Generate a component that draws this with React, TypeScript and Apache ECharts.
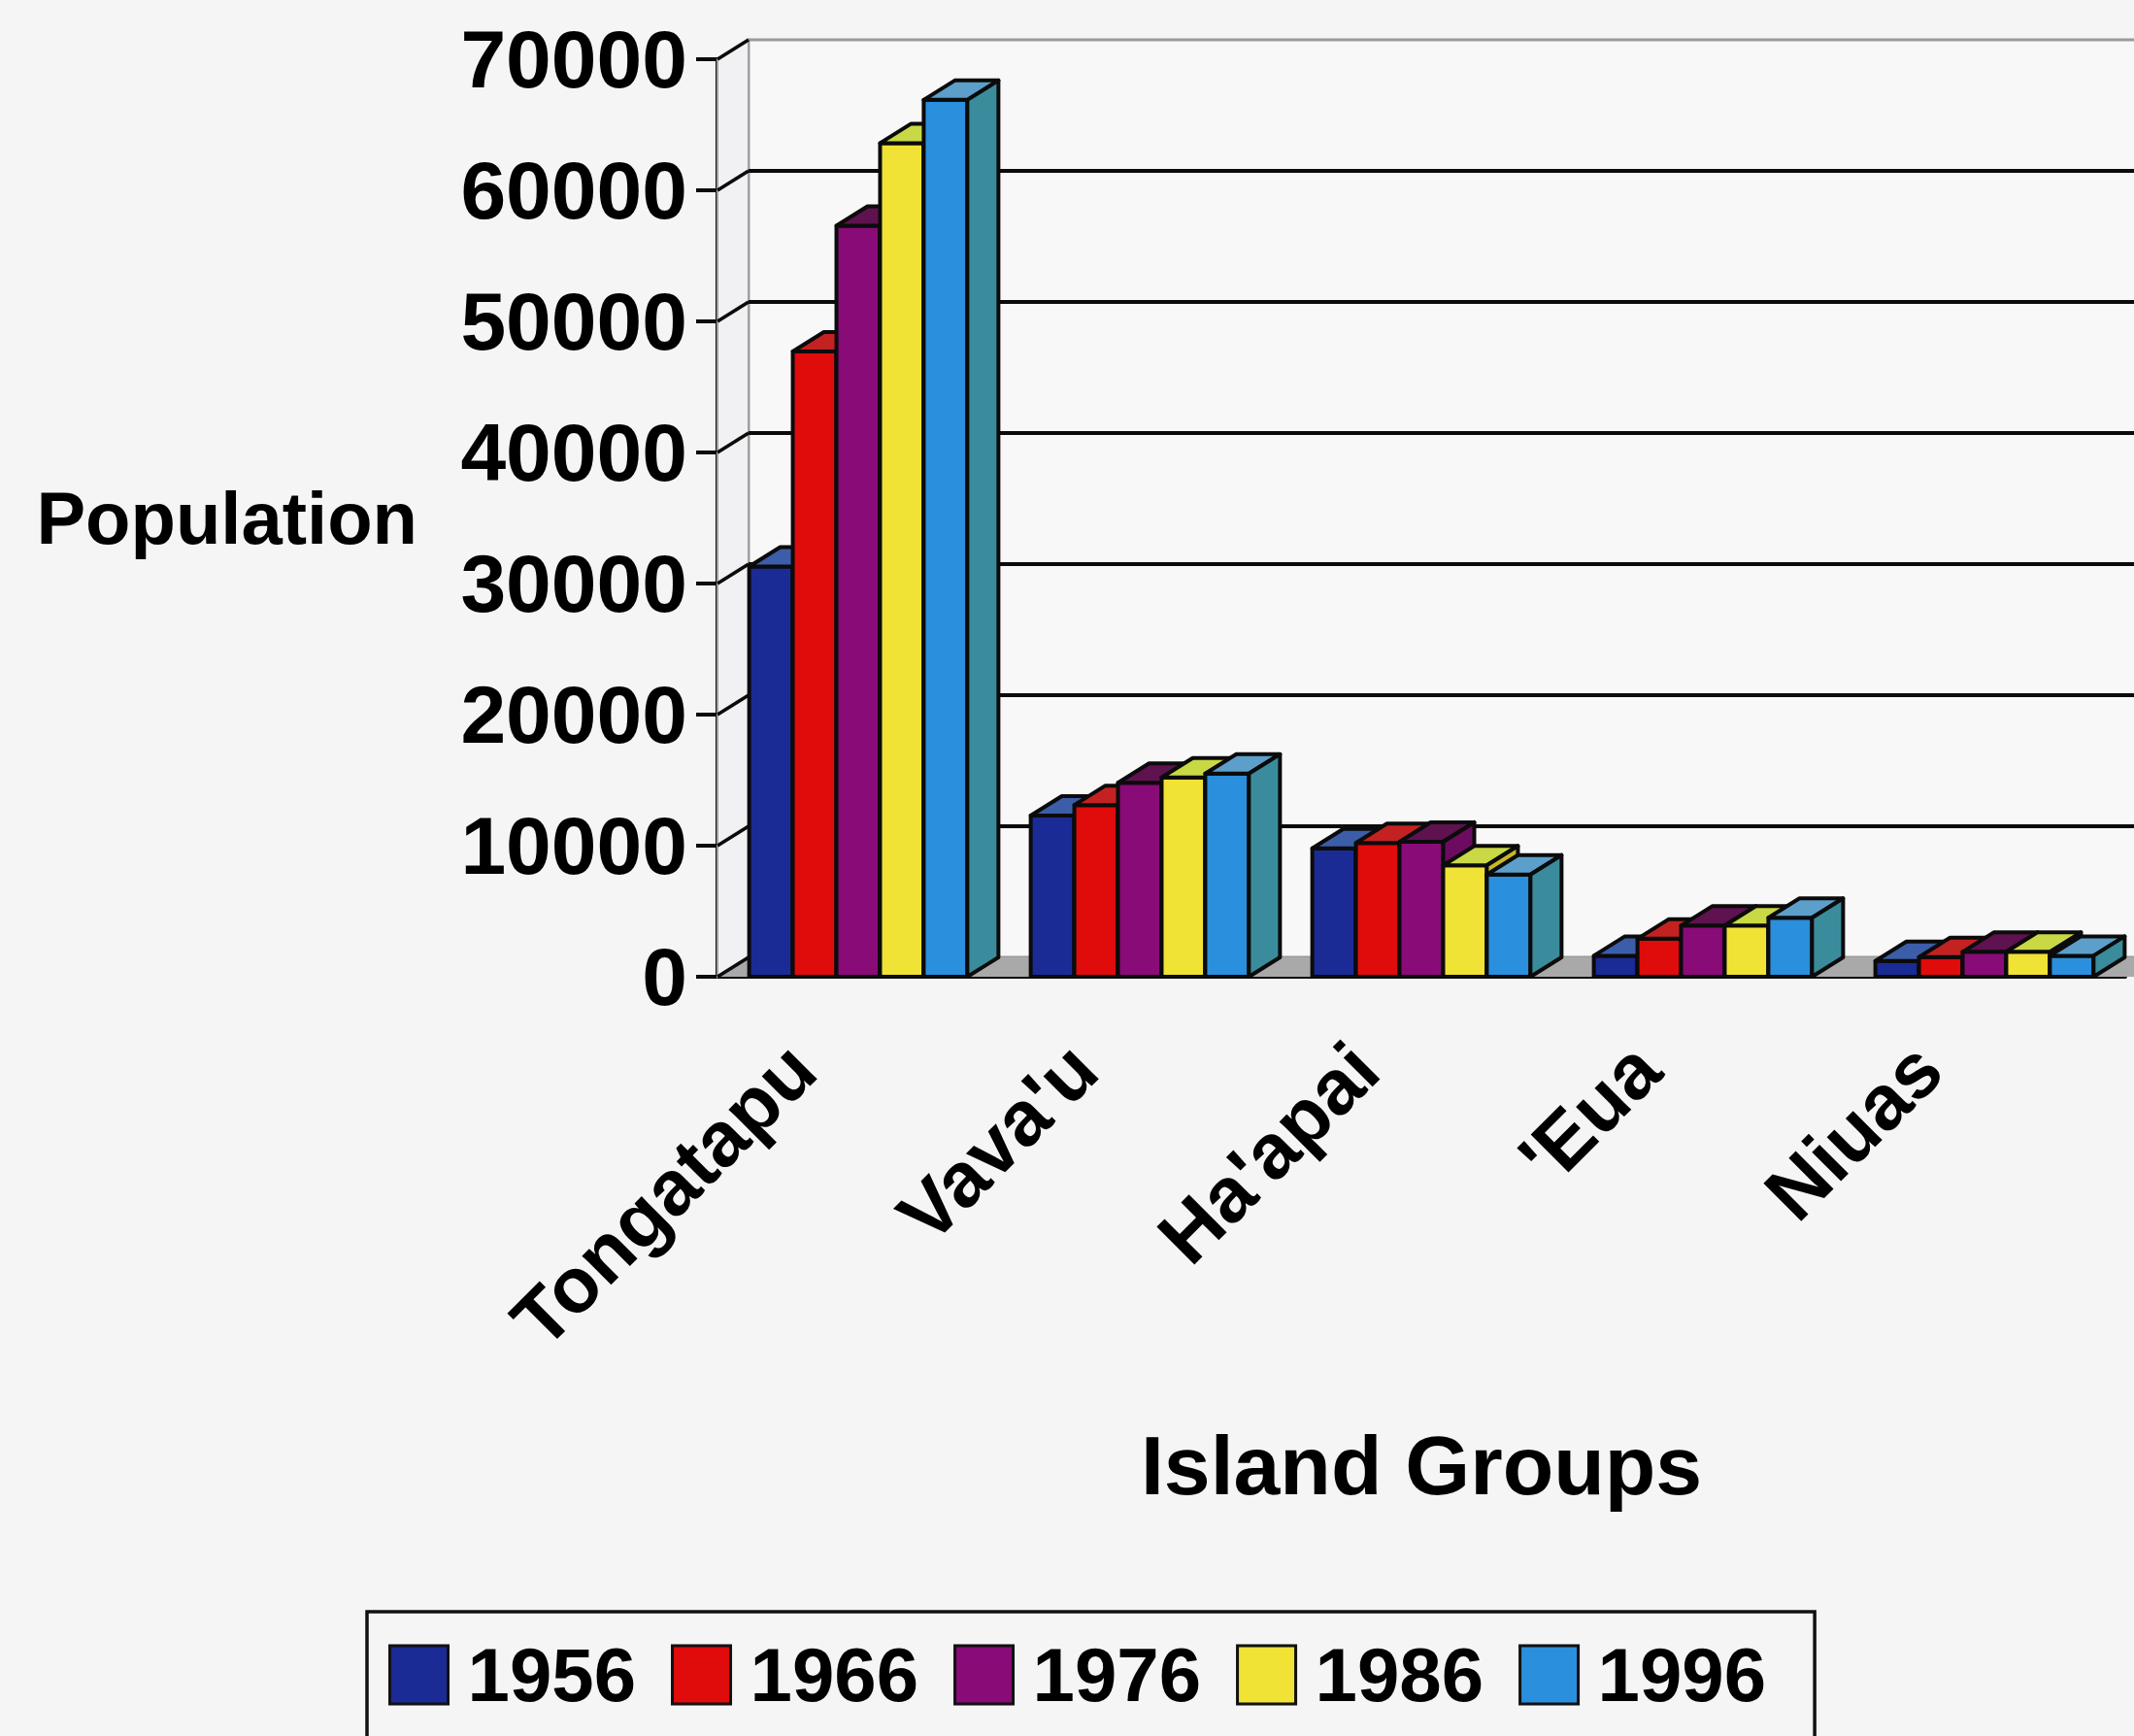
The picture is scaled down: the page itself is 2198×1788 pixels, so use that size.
import React, { useEffect, useRef } from "react";
import * as echarts from "echarts";

// Island groups of Tonga and census population by year
const islandGroups = ["Tongatapu", "Vava'u", "Ha'apai", "'Eua", "Niuas"];
const censusYears = ["1956", "1966", "1976", "1986", "1996"];

const pop1956 = [31300, 12300, 9800, 1600, 1200];
const pop1966 = [47700, 13100, 10200, 2900, 1500];
const pop1976 = [57300, 14800, 10300, 3900, 1900];
const pop1986 = [63600, 15200, 8500, 3900, 1900];
const pop1996 = [66900, 15500, 7800, 4500, 1600];

const populationTicks = [0, 10000, 20000, 30000, 40000, 50000, 60000, 70000];

const seriesValues = [pop1956, pop1966, pop1976, pop1986, pop1996];

// face colours of each 3D column: front, top, side
const faceColors = [
  { front: "#1b2b95", top: "#3c5da8", side: "#16247c" },
  { front: "#e00b0b", top: "#c42222", side: "#b00808" },
  { front: "#890b78", top: "#5e124f", side: "#6c0b60" },
  { front: "#f1e236", top: "#c9d845", side: "#c9b824" },
  { front: "#2a8fdc", top: "#5d9fcb", side: "#3a8c9c" },
];

const FONT = "'Liberation Sans', Arial, sans-serif";
const DEPTH_X = 32;
const DEPTH_Y = -20;
const EDGE = "#0b0b0b";

export default function App() {
  const ref = useRef<HTMLDivElement>(null);

  useEffect(() => {
    if (!ref.current) return;
    const chart = echarts.init(ref.current, null, { renderer: "svg" });

    // back wall, side wall, floor and gridlines of the 3D frame
    const frameSeries = {
      type: "custom",
      name: "frame",
      silent: true,
      z: 1,
      data: [[0, 0]],
      renderItem: (params: any, api: any) => {
        const cs = params.coordSys;
        const x = cs.x;
        const y = cs.y;
        const w = cs.width;
        const h = cs.height;
        const children: any[] = [];
        children.push({
          type: "polygon",
          shape: {
            points: [
              [x + DEPTH_X, y + DEPTH_Y],
              [x + w + DEPTH_X + 40, y + DEPTH_Y],
              [x + w + DEPTH_X + 40, y + h + DEPTH_Y],
              [x + DEPTH_X, y + h + DEPTH_Y],
            ],
          },
          style: { fill: "#f8f8f9", stroke: "#9a9a9a", lineWidth: 3 },
        });
        children.push({
          type: "polygon",
          shape: {
            points: [
              [x, y],
              [x + DEPTH_X, y + DEPTH_Y],
              [x + DEPTH_X, y + h + DEPTH_Y],
              [x, y + h],
            ],
          },
          style: { fill: "#f1f1f3", stroke: "#a0a0a0", lineWidth: 2 },
        });
        children.push({
          type: "polygon",
          shape: {
            points: [
              [x, y + h],
              [x + w + 40, y + h],
              [x + w + DEPTH_X + 40, y + h + DEPTH_Y],
              [x + DEPTH_X, y + h + DEPTH_Y],
            ],
          },
          style: { fill: "#a9a9a9" },
        });
        populationTicks.forEach((v) => {
          const p = api.coord([0, v]);
          const yy = p[1];
          if (v > 0 && v < 70000) {
            children.push({
              type: "line",
              shape: { x1: x + DEPTH_X, y1: yy + DEPTH_Y, x2: x + w + DEPTH_X + 40, y2: yy + DEPTH_Y },
              style: { stroke: EDGE, lineWidth: 4 },
            });
          }
          children.push({
            type: "line",
            shape: { x1: x, y1: yy, x2: x + DEPTH_X, y2: yy + DEPTH_Y },
            style: { stroke: EDGE, lineWidth: 3.5 },
          });
        });
        return { type: "group", children };
      },
    };

    const barSeries = censusYears.map((year, s) => ({
      type: "custom",
      name: year,
      z: 2,
      itemStyle: { color: faceColors[s].front },
      encode: { x: 0, y: 1 },
      data: seriesValues[s].map((v, i) => [i, v]),
      renderItem: (params: any, api: any) => {
        const cat = api.value(0);
        const val = api.value(1);
        const top = api.coord([cat, val]);
        const base = api.coord([cat, 0]);
        const cw = api.size([1, 0])[0];
        const bw = cw * 0.155;
        const x0 = top[0] - 2.5 * bw + s * bw;
        const y1 = top[1];
        const y0 = base[1];
        const c = faceColors[s];
        const stroke = { stroke: EDGE, lineWidth: 4, lineJoin: "round" };
        return {
          type: "group",
          children: [
            {
              type: "rect",
              shape: { x: x0, y: y1, width: bw, height: y0 - y1 },
              style: { fill: c.front, ...stroke },
            },
            {
              type: "polygon",
              shape: {
                points: [
                  [x0, y1],
                  [x0 + bw, y1],
                  [x0 + bw + DEPTH_X, y1 + DEPTH_Y],
                  [x0 + DEPTH_X, y1 + DEPTH_Y],
                ],
              },
              style: { fill: c.top, ...stroke },
            },
            {
              type: "polygon",
              shape: {
                points: [
                  [x0 + bw, y1],
                  [x0 + bw + DEPTH_X, y1 + DEPTH_Y],
                  [x0 + bw + DEPTH_X, y0 + DEPTH_Y],
                  [x0 + bw, y0],
                ],
              },
              style: { fill: c.side, ...stroke },
            },
          ],
        };
      },
    }));

    chart.setOption({
      animation: false,
      backgroundColor: "#f5f5f6",
      textStyle: { fontFamily: FONT },
      grid: { left: 739, right: 9, top: 61, bottom: 782, containLabel: false },
      legend: {
        data: censusYears.map((y, s) => ({
          name: y,
          itemStyle: { color: faceColors[s].front, borderColor: "#111", borderWidth: 3 },
        })),
        icon: "rect",
        orient: "horizontal",
        left: 378,
        top: 1660,
        itemWidth: 60,
        itemHeight: 60,
        itemGap: 36,
        padding: [26, 50, 34, 22],
        borderColor: "#111",
        borderWidth: 3.5,
        textStyle: {
          fontFamily: FONT,
          fontSize: 78,
          fontWeight: "bold",
          color: "#000",
          padding: [0, 0, 0, 15],
        },
      },
      xAxis: {
        type: "category",
        data: islandGroups,
        name: "Island Groups",
        nameLocation: "middle",
        nameGap: 460,
        nameTextStyle: { fontFamily: FONT, fontSize: 86, fontWeight: "bold", color: "#000" },
        axisLine: { lineStyle: { color: EDGE, width: 4 } },
        axisTick: { length: 24, lineStyle: { color: EDGE, width: 4 } },
        axisLabel: {
          interval: 0,
          rotate: 45,
          margin: 24,
          padding: [0, 82, 0, 0],
          fontFamily: FONT,
          fontSize: 80,
          fontWeight: "bold",
          color: "#000",
        },
        splitLine: { show: false },
      },
      yAxis: {
        type: "value",
        min: 0,
        max: 70000,
        interval: 10000,
        name: "Population",
        nameLocation: "middle",
        nameRotate: 0,
        nameGap: 309,
        nameTextStyle: { fontFamily: FONT, fontSize: 76, fontWeight: "bold", color: "#000" },
        axisLine: { show: true, lineStyle: { color: EDGE, width: 4 } },
        axisTick: { show: true, length: 22, lineStyle: { color: EDGE, width: 4 } },
        axisLabel: {
          margin: 31,
          formatter: (v: number) => String(v),
          fontFamily: FONT,
          fontSize: 84,
          fontWeight: "bold",
          color: "#000",
        },
        splitLine: { show: false },
      },
      series: [frameSeries, ...barSeries],
    });

    return () => chart.dispose();
  }, []);

  return (
    <div
      ref={ref}
      style={{ position: "absolute", left: 0, top: 0, width: 2198, height: 1788 }}
    />
  );
}
